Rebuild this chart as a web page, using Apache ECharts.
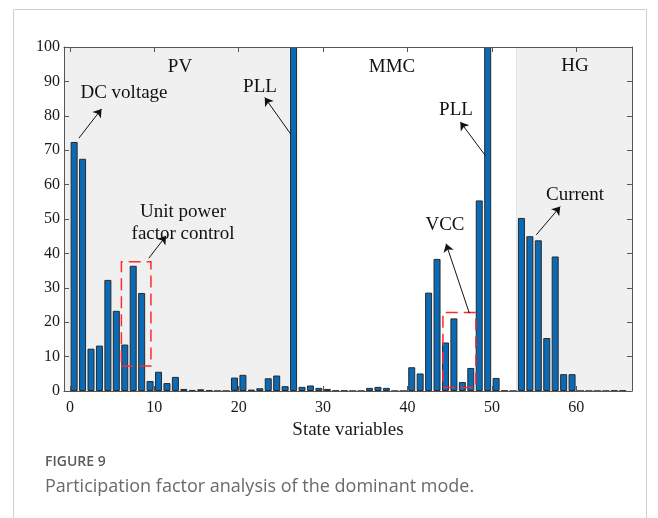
<!DOCTYPE html>
<html>
<head>
<meta charset="utf-8">
<script src="https://cdn.jsdelivr.net/npm/echarts@6/dist/echarts.min.js"></script>
<style>
  html, body { margin: 0; padding: 0; background: #ffffff; }
  #chart { width: 658px; height: 518px; }
</style>
</head>
<body>
<div id="chart"></div>
<script>
// Participation factors (%) of the dominant mode, one value per state variable
const pvFactors = [
  72.4, 67.5, 12.3, 13.2, 32.3, 23.3, 13.5, 36.4, 28.5, 2.9,
  5.6, 2.3, 4.1, 0.6, 0.3, 0.5, 0.2, 0, 0, 3.9,
  4.7, 0.4, 0.8, 3.7, 4.5, 1.4, 100
];
const mmcFactors = [
  1.2, 1.6, 0.9, 0.6, 0.1, 0.1, 0, 0, 0.9, 1.2,
  0.9, 0, 0, 6.9, 5.1, 28.6, 38.4, 14.1, 21.1, 2.6,
  6.7, 55.4, 100, 3.8, 0.1, 0
];
const hgFactors = [
  50.3, 45.0, 43.8, 15.4, 39.1, 4.9, 4.9, 0, 0, 0,
  0, 0.1, 0.1
];

const xTicks = [0, 10, 20, 30, 40, 50, 60];
const xRange = [-0.7, 66.6];
const yRange = [0, 100];

// Subsystem spans along the state-variable axis
const regionNames = ['PV', 'MMC', 'HG'];
const shadedSpans = [[-0.7, 26.5], [52.9, 66.6]];
const hgEdge = 52.9;

// Highlight boxes [x0, y0, x1, y1]
const upfBox = [6.1, 7.3, 9.6, 37.6];
const vccBox = [44.2, 1.0, 48.1, 22.8];

// Annotation arrows: tail -> head, in data coordinates
const arrows = [
  [[1.06, 73.5], [3.75, 82.0]],   // DC voltage
  [[26.13, 74.8], [23.09, 85.3]], // PLL (PV)
  [[9.35, 38.6], [11.39, 45.1]],  // Unit power factor control
  [[47.33, 22.6], [44.57, 42.8]], // VCC
  [[49.23, 68.4], [46.26, 78.2]], // PLL (MMC)
  [[55.26, 45.4], [58.1, 53.6]]   // Current
];

const allFactors = pvFactors.concat(mmcFactors, hgFactors);
const barData = allFactors.map((v, i) => [i + 0.5, v]);

const serif = "'Liberation Serif', 'Times New Roman', serif";
const axisColor = '#555555';

function boxArea(b) {
  return [{ coord: [b[0], b[1]] }, { coord: [b[2], b[3]] }];
}

const chart = echarts.init(document.getElementById('chart'), null, { renderer: 'canvas' });

const hiddenAxisCommon = {
  z: 10,
  axisLine: { show: true, onZero: false, lineStyle: { color: axisColor, width: 1 } },
  axisLabel: { show: false },
  splitLine: { show: false }
};

function label(text, x, y) {
  return {
    type: 'text', x: x, y: y, z: 100,
    style: { text: text, font: '19px ' + serif, fill: '#111', align: 'center', verticalAlign: 'middle' }
  };
}

const option = {
  animation: false,
  backgroundColor: '#ffffff',
  grid: { left: 64, right: 26, top: 47, bottom: 127, containLabel: false },
  xAxis: [
    {
      type: 'value',
      z: 10,
      min: xRange[0],
      max: xRange[1],
      position: 'bottom',
      axisLine: { show: true, onZero: false, lineStyle: { color: axisColor, width: 1 } },
      axisTick: { show: true, inside: true, length: 5, customValues: xTicks, lineStyle: { color: axisColor } },
      axisLabel: {
        show: true, customValues: xTicks, margin: 9,
        fontFamily: serif, fontSize: 16, color: '#1a1a1a'
      },
      splitLine: { show: false },
      name: 'State variables',
      nameLocation: 'middle',
      nameGap: 26,
      nameTextStyle: { fontFamily: serif, fontSize: 19, color: '#1a1a1a' }
    },
    Object.assign({
      type: 'value',
      min: xRange[0],
      max: xRange[1],
      position: 'top',
      axisTick: { show: true, inside: true, length: 5, customValues: xTicks, lineStyle: { color: axisColor } }
    }, hiddenAxisCommon)
  ],
  yAxis: [
    {
      type: 'value',
      z: 10,
      min: yRange[0],
      max: yRange[1],
      interval: 10,
      position: 'left',
      axisLine: { show: true, onZero: false, lineStyle: { color: axisColor, width: 1 } },
      axisTick: { show: true, inside: true, length: 5, lineStyle: { color: axisColor } },
      axisLabel: { show: true, margin: 4, fontFamily: serif, fontSize: 16, color: '#1a1a1a' },
      splitLine: { show: false }
    },
    Object.assign({
      type: 'value',
      min: yRange[0],
      max: yRange[1],
      interval: 10,
      position: 'right',
      axisTick: { show: true, inside: true, length: 5, lineStyle: { color: axisColor } }
    }, hiddenAxisCommon)
  ],
  series: [
    {
      // shaded subsystem backgrounds (PV and HG)
      type: 'custom',
      z: 1,
      silent: true,
      clip: true,
      data: shadedSpans,
      renderItem: function (params, api) {
        const p0 = api.coord([api.value(0), yRange[1]]);
        const p1 = api.coord([api.value(1), yRange[0]]);
        return {
          type: 'rect',
          shape: { x: p0[0], y: p0[1], width: p1[0] - p0[0], height: p1[1] - p0[1] },
          style: { fill: '#f0f0f0' }
        };
      }
    },
    {
      // thin divider at the start of the HG block
      type: 'line',
      data: [],
      z: 1,
      silent: true,
      markLine: {
        silent: true,
        z: 1,
        symbol: 'none',
        label: { show: false },
        lineStyle: { color: '#d2d2d2', width: 1, type: 'solid' },
        data: [{ xAxis: hgEdge }]
      }
    },
    {
      type: 'bar',
      data: barData,
      barWidth: 7,
      z: 2,
      itemStyle: { color: '#0a6ab6', borderColor: '#2a2a2a', borderWidth: 1 }
    },
    {
      // highlight boxes and annotation arrows
      type: 'line',
      data: [],
      z: 5,
      silent: true,
      markArea: {
        silent: true,
        z: 6,
        itemStyle: {
          color: 'rgba(0,0,0,0)',
          borderColor: '#ff2a2a',
          borderWidth: 1.5,
          borderType: [12, 6]
        },
        data: [boxArea(upfBox), boxArea(vccBox)]
      },
      markLine: {
        silent: true,
        z: 7,
        symbol: ['none', 'arrow'],
        symbolSize: 8,
        label: { show: false },
        lineStyle: { color: '#111111', width: 1, type: 'solid' },
        data: arrows.map(a => [{ coord: a[0] }, { coord: a[1] }])
      }
    }
  ],
  graphic: [
    {
      type: 'rect', z: -10, silent: true,
      shape: { x: 13.5, y: 9.5, width: 633, height: 530 },
      style: { fill: 'none', stroke: '#d0d0d0', lineWidth: 1 }
    },
    label(regionNames[0], 180, 67),
    label(regionNames[1], 392, 67),
    label(regionNames[2], 575, 66),
    label('DC voltage', 124, 93),
    label('PLL', 260, 87),
    label('Unit power', 183, 212),
    label('factor control', 183, 234),
    label('VCC', 445, 225),
    label('PLL', 456, 110),
    label('Current', 575, 195),
    { type: 'text', x: 45, y: 462, z: 100, style: { text: 'FIGURE 9', font: '600 14px "Open Sans", sans-serif', fill: '#5a5a5a', align: 'left', verticalAlign: 'middle' } },
    { type: 'text', x: 45, y: 487, z: 100, style: { text: 'Participation factor analysis of the dominant mode.', font: '18px "Open Sans", sans-serif', fill: '#6a6a6a', align: 'left', verticalAlign: 'middle' } }
  ]
};

chart.setOption(option);
</script>
</body>
</html>
